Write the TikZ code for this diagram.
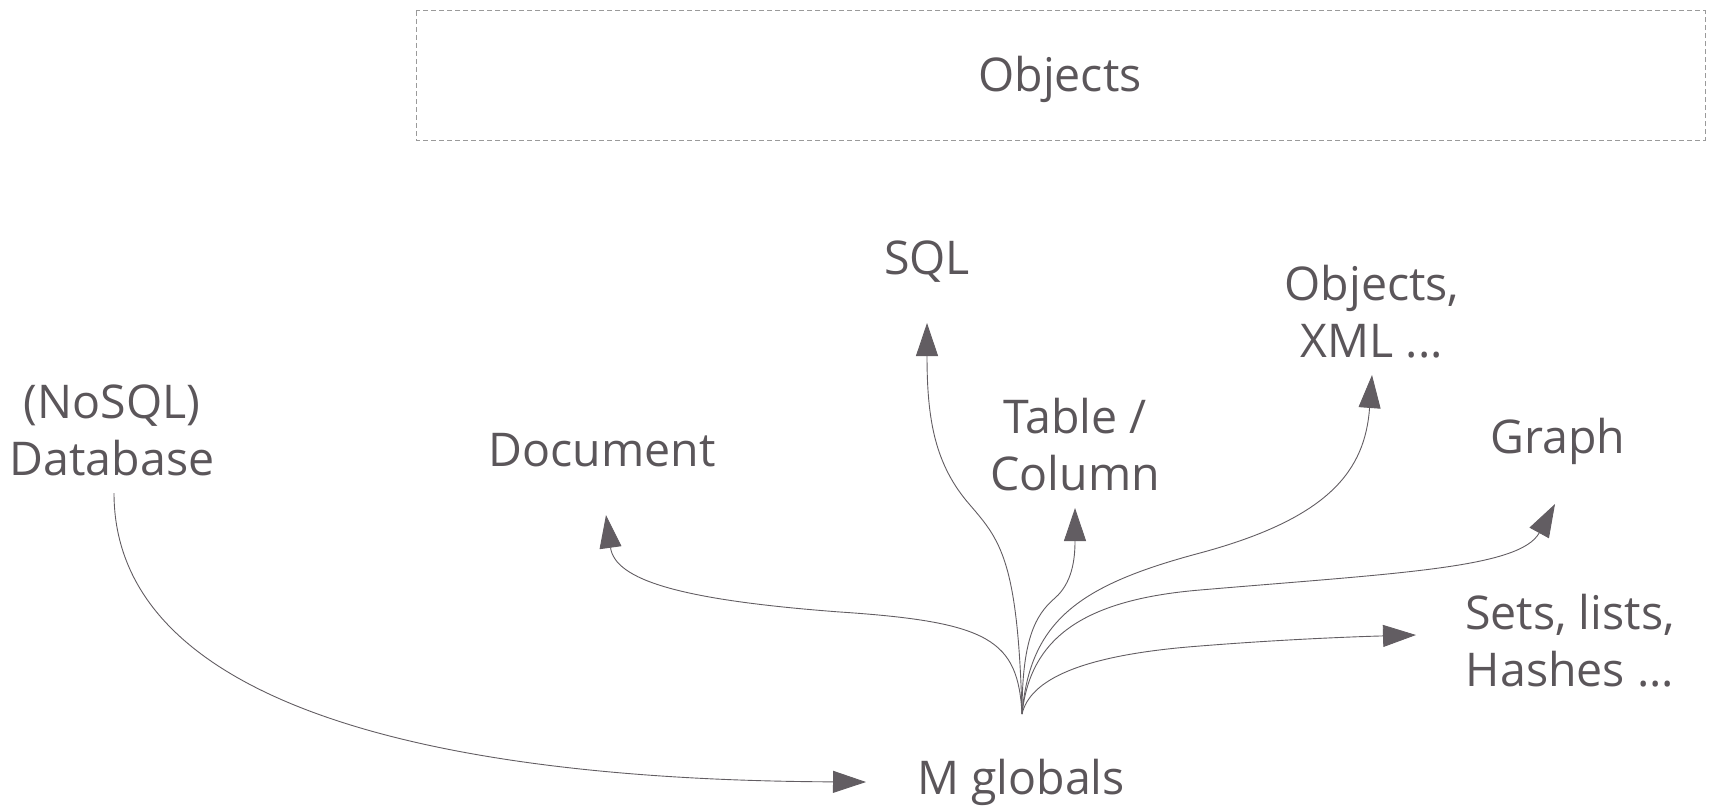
\documentclass[tikz,border=0pt]{standalone}
\usepackage{fontspec}
\setmainfont{Open Sans}
\usetikzlibrary{arrows.meta}
\definecolor{ink}{HTML}{5B565A}
\definecolor{wire}{HTML}{625D62}
\definecolor{frame}{HTML}{9A9A9A}
\tikzset{
  lbl/.style={text=ink, font=\fontsize{46.5}{57}\selectfont, align=center, inner sep=0pt},
  link/.style={draw=wire, line width=0.9pt, -{Triangle[length=33pt,width=22pt]}, fill=none},
  panel/.style={draw=frame, line width=1pt, dash pattern=on 5pt off 3pt}
}
\begin{document}
\begin{tikzpicture}[x=1pt,y=-1pt]
\useasboundingbox (0,0) rectangle (1712,808);

% layer box on top
\draw[panel] (416,11) rectangle (1705,140);
\node[lbl] (objects) at (1060,79) {Objects};

% labels
\node[lbl] (db)    at (112,430) {(NoSQL)\\Database};
\node[lbl] (doc)   at (602,450) {Document};
\node[lbl] (sql)   at (927,262) {SQL};
\node[lbl] (tab)   at (1075,445) {Table /\\Column};
\node[lbl] (oxml)  at (1372,312) {Objects,\\XML ...};
\node[lbl] (graph) at (1558,441) {Graph};
\node[lbl] (sets)  at (1570,641) {Sets, lists,\\Hashes ...};
\node[lbl] (mg)    at (1021,782) {M globals};

% connector end points
\coordinate (root)     at (1022,714);
\coordinate (dbout)    at (114,493);
\coordinate (mgin)     at (866,782);
\coordinate (doctip)   at (606,515);
\coordinate (sqltip)   at (927,323);
\coordinate (tabtip)   at (1075,508);
\coordinate (oxmltip)  at (1372,375);
\coordinate (graphtip) at (1555,504);
\coordinate (setstip)  at (1416,635);

% database feeds the globals
\draw[link] (dbout) .. controls (114,700) and (420,780) .. (mgin);

% models fanning out of the globals
\draw[link] (root) .. controls (1018,640) and (990,622) .. (840,612)
                   .. controls (680,600) and (615,580) .. (doctip);
\draw[link] (root) .. controls (1018,560) and (1000,540) .. (970,505)
                   .. controls (935,465) and (927,420) .. (sqltip);
\draw[link] (root) .. controls (1022,640) and (1035,615) .. (1055,598)
                   .. controls (1072,583) and (1075,560) .. (tabtip);
\draw[link] (root) .. controls (1030,620) and (1080,585) .. (1200,553)
                   .. controls (1330,518) and (1365,470) .. (oxmltip);
\draw[link] (root) .. controls (1030,640) and (1080,600) .. (1200,590)
                   .. controls (1400,573) and (1520,568) .. (graphtip);
\draw[link] (root) .. controls (1030,680) and (1080,655) .. (1200,646)
                   .. controls (1300,638) and (1380,636) .. (setstip);
\end{tikzpicture}
\end{document}
